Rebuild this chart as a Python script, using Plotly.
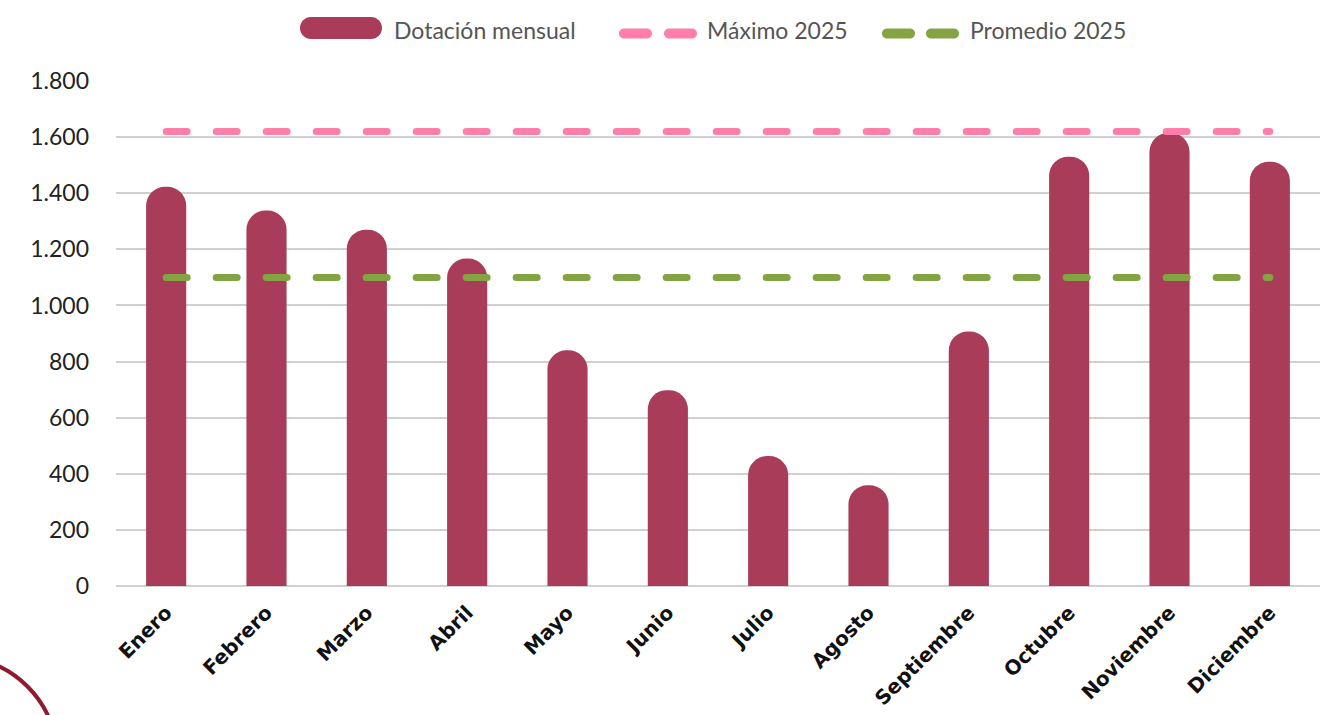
import plotly.graph_objects as go

months = ["Enero", "Febrero", "Marzo", "Abril", "Mayo", "Junio", "Julio",
          "Agosto", "Septiembre", "Octubre", "Noviembre", "Diciembre"]
dotacion = [1423, 1338, 1270, 1167, 840, 698, 463, 359, 907, 1530, 1615, 1512]
maximo_2025 = [1620] * 12
promedio_2025 = [1100] * 12
y_ticks = [0, 200, 400, 600, 800, 1000, 1200, 1400, 1600, 1800]
legend_names = ["Dotación mensual", "Máximo 2025", "Promedio 2025"]

BAR = "#A83C59"
PINK = "#FF7FAA"
GREEN = "#84A443"

W, H = 1323, 715
L, R, T, B = 116, 3, 81, 129
pw, ph = W - L - R, H - T - B


def px2paper(x, y):
    return (x - L) / pw, (H - B - y) / ph


def pill_path(x0, x1, yc, h):
    r = h / 2
    k = 0.5523 * r
    pts = [
        ("M", [(x0 + r, yc - r)]),
        ("L", [(x1 - r, yc - r)]),
        ("C", [(x1 - r + k, yc - r), (x1, yc - k), (x1, yc)]),
        ("C", [(x1, yc + k), (x1 - r + k, yc + r), (x1 - r, yc + r)]),
        ("L", [(x0 + r, yc + r)]),
        ("C", [(x0 + r - k, yc + r), (x0, yc + k), (x0, yc)]),
        ("C", [(x0, yc - k), (x0 + r - k, yc - r), (x0 + r, yc - r)]),
    ]
    s = ""
    for cmd, ps in pts:
        s += cmd + " " + " ".join("%.5f,%.5f" % px2paper(px, py) for px, py in ps) + " "
    return s + "Z"


fig = go.Figure()
fig.add_trace(go.Bar(x=months, y=dotacion, name=legend_names[0],
                     marker=dict(color=BAR, cornerradius=19, line=dict(width=0)),
                     width=0.4, showlegend=False))
fig.add_trace(go.Scatter(x=months, y=maximo_2025, name=legend_names[1], mode="lines",
                         line=dict(color=PINK, width=7, dash="21px,29px"), showlegend=False))
fig.add_trace(go.Scatter(x=months, y=promedio_2025, name=legend_names[2], mode="lines",
                         line=dict(color=GREEN, width=7, dash="21px,29px"), showlegend=False))

# custom legend
shapes = [
    dict(type="path", xref="paper", yref="paper", path=pill_path(300, 382, 28, 22),
         fillcolor=BAR, line=dict(width=0)),
    dict(type="path", xref="paper", yref="paper", path=pill_path(619, 652, 33.5, 10),
         fillcolor=PINK, line=dict(width=0)),
    dict(type="path", xref="paper", yref="paper", path=pill_path(664, 697, 33.5, 10),
         fillcolor=PINK, line=dict(width=0)),
    dict(type="path", xref="paper", yref="paper", path=pill_path(882, 915, 33.5, 10),
         fillcolor=GREEN, line=dict(width=0)),
    dict(type="path", xref="paper", yref="paper", path=pill_path(926, 959, 33.5, 10),
         fillcolor=GREEN, line=dict(width=0)),
]
x0, y0 = px2paper(-150, 864)
x1, y1 = px2paper(58, 656)
shapes.append(dict(type="circle", xref="paper", yref="paper", x0=x0, y0=y0, x1=x1, y1=y1,
                   line=dict(color="#8E1B2E", width=4)))

annotations = []
for name, xpx in zip(legend_names, [392, 705, 968]):
    ax, ay = px2paper(xpx, 30)
    annotations.append(dict(text=name, xref="paper", yref="paper", x=ax, y=ay,
                            xanchor="left", yanchor="middle", showarrow=False,
                            font=dict(family="Lato, sans-serif", size=23, color="#555")))

fig.update_layout(
    width=W, height=H,
    margin=dict(l=L, r=R, t=T, b=B, autoexpand=False),
    paper_bgcolor="white", plot_bgcolor="white",
    separators=",.",
    font=dict(family="Lato, Open Sans, sans-serif", color="#222"),
    showlegend=False,
    shapes=shapes,
    annotations=annotations,
)
fig.update_xaxes(tickangle=-45,
                 tickfont=dict(family="DejaVu Sans", size=20, color="#111", weight="bold"),
                 showgrid=False, showline=False, ticks="", ticklabelstandoff=10,
                 automargin=False)
fig.update_yaxes(range=[0, 1800], tickvals=y_ticks, separatethousands=True,
                 tickfont=dict(family="Lato", size=23, color="#222"), showgrid=True,
                 gridcolor="#D0D0D0", gridwidth=2, zeroline=True,
                 zerolinecolor="#D0D0D0", zerolinewidth=2, ticks="",
                 ticklabelstandoff=26, automargin=False)

fig.write_html(
    "out.html",
    config={"displayModeBar": False},
    post_script="document.body.style.margin='0';"
                "document.querySelectorAll('.js-line').forEach(function(p){p.style.strokeLinecap='round';});",
)
